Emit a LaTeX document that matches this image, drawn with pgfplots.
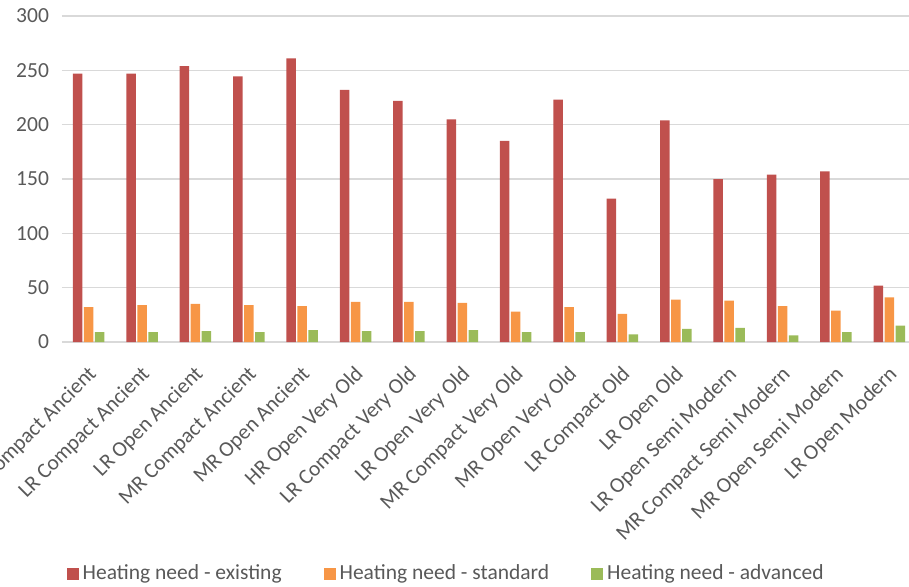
\documentclass[border=0pt]{standalone}
\usepackage{pgfplots}
\pgfplotsset{compat=1.18}
\usepackage{fontspec}
\setmainfont{Carlito}
\definecolor{cexist}{HTML}{C0504D}
\definecolor{cstd}{HTML}{F79646}
\definecolor{cadv}{HTML}{9BBB59}
\definecolor{ticktext}{HTML}{595959}
\definecolor{gridc}{HTML}{D9D9D9}
\newcommand{\fs}{\fontsize{10.75}{12.5}\selectfont}
\begin{document}
\begin{tikzpicture}
\begin{axis}[
  scale only axis, width=427pt, height=163pt,
  xmin=-0.5, xmax=15.5, ymin=0, ymax=300,
  ybar=0.75pt, bar width=4.75pt,
  xtick={0,...,15},
  xticklabels={HR Compact Ancient, LR Compact Ancient, LR Open Ancient, MR Compact Ancient, MR Open Ancient, HR Open Very Old, LR Compact Very Old, LR Open Very Old, MR Compact Very Old, MR Open Very Old, LR Compact Old, LR Open Old, LR Open Semi Modern, MR Compact Semi Modern, MR Open Semi Modern, LR Open Modern},
  ytick={0,50,...,300},
  ymajorgrids, major grid style={gridc, line width=0.75pt},
  axis line style={draw=none},
  major tick length=0pt,
  tick label style={font=\fs, text=ticktext},
  /pgf/number format/assume math mode=true,
  yticklabel style={xshift=-3pt},
  xticklabel style={xshift=-1pt, yshift=-11pt, rotate=45, anchor=north east, inner sep=0pt},
  legend columns=3,
  legend style={at={(0.451,-0.7117)}, anchor=center, draw=none, font=\fs, text=ticktext,
    /tikz/every even column/.append style={column sep=19pt}},
  legend image code/.code={\draw[#1, draw=none] (0pt,-3pt) rectangle (6pt,3pt);},
]
\addplot[fill=cexist, draw=none] coordinates {(0,247) (1,247) (2,254) (3,244.5) (4,261) (5,232) (6,222) (7,205) (8,185) (9,223) (10,132) (11,204) (12,150) (13,154) (14,157) (15,52)};
\addplot[fill=cstd, draw=none] coordinates {(0,32) (1,34) (2,35) (3,34) (4,33) (5,37) (6,37) (7,36) (8,28) (9,32) (10,26) (11,39) (12,38) (13,33) (14,29) (15,41)};
\addplot[fill=cadv, draw=none] coordinates {(0,9) (1,9) (2,10) (3,9) (4,11) (5,10) (6,10) (7,11) (8,9) (9,9) (10,7) (11,12) (12,13) (13,6) (14,9) (15,15)};
\legend{Heating need - existing, Heating need - standard, Heating need - advanced}
\end{axis}
\pgfresetboundingbox
\useasboundingbox (-31pt,-122pt) rectangle (423.5pt,171pt);
\end{tikzpicture}
\end{document}
